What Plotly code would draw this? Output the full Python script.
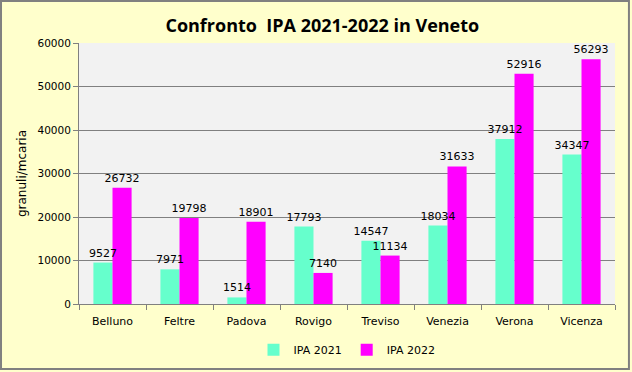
import plotly.graph_objects as go

categories = ["Belluno", "Feltre", "Padova", "Rovigo", "Treviso", "Venezia", "Verona", "Vicenza"]
ipa_2021 = [9527, 7971, 1514, 17793, 14547, 18034, 37912, 34347]
ipa_2022 = [26732, 19798, 18901, 7140, 11134, 31633, 52916, 56293]
y_ticks = [0, 10000, 20000, 30000, 40000, 50000, 60000]

font_fam = "DejaVu Sans"

fig = go.Figure()
# visible bars
fig.add_trace(go.Bar(x=categories, y=ipa_2021, name="IPA 2021", marker_color="#66FFCC",
                     offsetgroup="a", marker_line_width=0))
fig.add_trace(go.Bar(x=categories, y=ipa_2022, name="IPA 2022", marker_color="#FF00FF",
                     offsetgroup="b", marker_line_width=0))
# transparent overlays carrying the labels (drawn on top)
for vals, grp in ((ipa_2021, "a"), (ipa_2022, "b")):
    fig.add_trace(go.Bar(x=categories, y=vals, offsetgroup=grp, showlegend=False,
                         marker_color="rgba(0,0,0,0)", marker_line_width=0, hoverinfo="skip",
                         text=[str(v) for v in vals],
                         textposition="outside", constraintext="none",
                         textfont=dict(family=font_fam, size=11, color="black"), cliponaxis=False))

fig.update_layout(
    width=632, height=372,
    margin=dict(l=79, r=17, t=43, b=68, autoexpand=False),
    paper_bgcolor="#FFFFCC",
    plot_bgcolor="#F2F2F2",
    barmode="group",
    bargap=0.43,
    bargroupgap=0,
    title=dict(text="<b>Confronto  IPA 2021-2022 in Veneto</b>", x=0.51, xanchor="center",
               y=0.93, yanchor="middle",
               font=dict(family="Open Sans", size=18, color="black")),
    font=dict(family=font_fam, size=11, color="black"),
    legend=dict(orientation="h", x=0.5, xanchor="center", y=-0.175, yanchor="middle",
                font=dict(family=font_fam, size=11), itemwidth=30, bgcolor="rgba(0,0,0,0)"),
    showlegend=True,
    shapes=[dict(type="rect", xref="paper", yref="paper", x0=-0.1455, x1=1.026, y0=-0.249, y1=1.161,
                 line=dict(color="#808080", width=2), fillcolor="rgba(0,0,0,0)", layer="below")],
)
fig.update_xaxes(showline=True, linecolor="#808080", ticks="outside", tickson="boundaries",
                 ticklen=5, tickcolor="#808080", showgrid=False, automargin=False,
                 ticklabelstandoff=7, tickfont=dict(family=font_fam, size=11))
fig.update_yaxes(range=[0, 60000], tickvals=y_ticks, tickformat="d", showline=True, linecolor="#808080",
                 ticks="outside", ticklen=5, tickcolor="#808080", gridcolor="#808080",
                 gridwidth=1, zeroline=False, automargin=False,
                 title=dict(text="granuli/mcaria", font=dict(family=font_fam, size=12), standoff=8),
                 tickfont=dict(family=font_fam, size=10.5))

fig.write_html("out.html", config={"displayModeBar": False},
               post_script="document.body.style.margin='0';document.body.style.padding='0';")
